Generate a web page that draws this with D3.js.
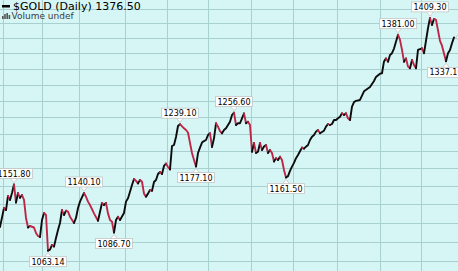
<!DOCTYPE html>
<html>
<head>
<meta charset="utf-8">
<script src="https://cdn.jsdelivr.net/npm/d3@7"></script>
<style>
  html, body { margin: 0; padding: 0; background: #d6f6f6; overflow: hidden; }
  svg { display: block; }
</style>
</head>
<body>
<div id="chart"></div>
<script>
// daily closes (trading-day index, price)
const days = [0, 2, 3, 4, 5, 6, 7, 8, 9, 10, 11, 12, 13, 14, 15, 17, 18, 19, 20, 21, 22, 23, 24, 25, 26, 27, 28, 29, 30, 31, 32, 33, 34, 35, 37, 38, 39, 40, 42, 43, 44, 45, 47, 49, 51, 52, 53, 54, 55, 56, 57, 58, 59, 60, 62, 63, 64, 65, 66, 67, 68, 69, 70, 71, 72, 73, 74, 75, 76, 77, 78, 79, 80, 81, 82, 83, 84, 85, 86, 87, 88, 89, 90, 92, 93, 94, 95, 96, 97, 98, 99, 100, 101, 102, 103, 104, 105, 106, 107, 108, 109, 110, 111, 112, 113, 114, 115, 116, 117, 118, 119, 120, 121, 122, 123, 124, 125, 126, 127, 128, 129, 130, 131, 132, 133, 134, 135, 136, 137, 138, 139, 140, 141, 142, 143, 144, 145, 146, 147, 148, 149, 150, 151, 152, 153, 154, 155, 156, 157, 158, 159, 160, 162, 163, 164, 165, 166, 167, 168, 169, 170, 171, 172, 173, 174, 175, 176, 177, 178, 180, 182, 185, 187, 188, 190, 191, 192, 193, 194, 195, 196, 197, 199, 200, 201, 202, 203, 204, 205, 206, 207, 208, 209, 211, 212, 214, 215, 216, 217, 218, 220, 221, 223, 224, 225, 226, 227];
const closes = [1094.0, 1119.5, 1116.8, 1136.0, 1130.5, 1140.0, 1151.8, 1126.8, 1140.0, 1133.5, 1137.3, 1130.5, 1106.1, 1093.4, 1095.4, 1093.4, 1086.1, 1082.2, 1080.9, 1103.4, 1112.8, 1110.1, 1063.14, 1064.5, 1070.5, 1068.4, 1079.6, 1090.1, 1099.4, 1116.8, 1110.1, 1115.9, 1114.6, 1107.8, 1099.4, 1106.1, 1119.5, 1128.2, 1140.1, 1134.9, 1128.2, 1123.6, 1112.3, 1102.4, 1126.3, 1123.6, 1126.3, 1112.3, 1103.4, 1101.1, 1086.7, 1103.4, 1107.8, 1103.4, 1112.8, 1128.2, 1132.7, 1141.8, 1151.2, 1159.5, 1157.0, 1153.4, 1158.1, 1155.7, 1139.2, 1134.9, 1139.2, 1144.2, 1143.0, 1155.3, 1158.1, 1166.6, 1169.4, 1166.6, 1178.0, 1181.5, 1176.5, 1173.0, 1206.8, 1208.3, 1220.0, 1236.4, 1239.1, 1232.9, 1230.4, 1226.7, 1211.3, 1196.6, 1186.5, 1177.1, 1196.6, 1204.5, 1211.8, 1214.1, 1215.6, 1223.0, 1225.5, 1205.4, 1218.1, 1240.5, 1235.4, 1228.9, 1225.5, 1230.4, 1232.9, 1237.9, 1242.9, 1253.0, 1256.6, 1237.9, 1240.5, 1240.5, 1248.0, 1255.5, 1240.5, 1242.9, 1237.9, 1198.5, 1211.3, 1196.6, 1198.5, 1211.3, 1201.0, 1206.1, 1208.3, 1196.6, 1201.0, 1196.6, 1184.4, 1189.2, 1186.5, 1191.3, 1186.5, 1172.2, 1161.5, 1163.6, 1171.0, 1177.0, 1182.4, 1189.2, 1193.7, 1199.2, 1204.5, 1202.9, 1205.8, 1208.3, 1215.6, 1220.5, 1223.0, 1228.0, 1230.4, 1225.5, 1229.4, 1235.4, 1239.4, 1237.9, 1239.4, 1245.4, 1245.4, 1248.0, 1250.4, 1255.5, 1253.0, 1255.5, 1248.0, 1245.4, 1265.7, 1272.7, 1274.7, 1276.0, 1289.5, 1296.2, 1305.7, 1312.1, 1317.3, 1318.0, 1336.9, 1341.9, 1336.5, 1347.5, 1350.3, 1358.0, 1381.0, 1372.3, 1355.7, 1336.5, 1341.9, 1328.6, 1326.0, 1339.4, 1331.3, 1326.0, 1355.7, 1358.4, 1350.3, 1391.9, 1409.3, 1397.4, 1407.6, 1406.0, 1370.6, 1362.7, 1337.1, 1350.3, 1355.7, 1366.8, 1376.5];

// labelled swing highs / lows (trading-day index)
const peakDays = [7, 42, 90, 117, 199, 215];
const troughDays = [24, 57, 98, 143, 223];

// price grid (log scale) and month separators (in trading days)
const gridPrices = [1050, 1075, 1100, 1125, 1150, 1175, 1200, 1225, 1250, 1275, 1300, 1325, 1350, 1375, 1400, 1425];
const monthBreaks = [1.6, 20.9, 39.7, 62.6, 83.4, 104, 125.4, 146.7, 168.6, 190, 210.6];

const symbol = "$GOLD";
const period = "Daily";

const width = 458, height = 271;
const upColor = "#0c0c0c", downColor = "#bd2746";

const svg = d3.select("#chart").append("svg")
  .attr("width", width)
  .attr("height", height);

const x = d3.scaleLinear().domain([0, 229]).range([0, 458]);
const y = d3.scaleLog().domain([1037.3, 1440.2]).range([height, 0]);

svg.append("rect")
  .attr("width", width).attr("height", height)
  .attr("fill", "#d6f6f6");

// grid
svg.append("g").selectAll("line")
  .data(gridPrices)
  .enter().append("line")
  .attr("x1", 0).attr("x2", width)
  .attr("y1", d => Math.round(y(d)) + 0.5)
  .attr("y2", d => Math.round(y(d)) + 0.5)
  .attr("stroke", "#a9d0d0")
  .attr("stroke-width", 1);

svg.append("g").selectAll("line")
  .data(monthBreaks)
  .enter().append("line")
  .attr("y1", 0).attr("y2", height)
  .attr("x1", d => Math.round(x(d)) + 0.5)
  .attr("x2", d => Math.round(x(d)) + 0.5)
  .attr("stroke", "#a9d0d0")
  .attr("stroke-width", 1);

// price line: black when up, red when down
const pts = days.map((d, i) => ({ day: d, close: closes[i] }));
const runs = [];
for (let i = 1; i < pts.length; i++) {
  const up = pts[i].close >= pts[i - 1].close;
  const last = runs[runs.length - 1];
  if (last && last.up === up) last.pts.push(pts[i]);
  else runs.push({ up: up, pts: [pts[i - 1], pts[i]] });
}

const line = d3.line()
  .x(d => x(d.day))
  .y(d => y(d.close));

svg.append("g").selectAll("path")
  .data(runs)
  .enter().append("path")
  .attr("d", d => line(d.pts))
  .attr("fill", "none")
  .attr("stroke", d => d.up ? upColor : downColor)
  .attr("stroke-width", 1.9)
  .attr("stroke-linejoin", "round")
  .attr("stroke-linecap", "round");

// swing labels
function addLabel(day, above) {
  const p = pts.find(q => q.day === day);
  const px = x(p.day), py = y(p.close);
  const g = svg.append("g");
  const boxH = 10, gap = 6;
  const top = above ? py - gap - boxH : py + gap;
  const tri = above
    ? [[px - 3.5, py - gap], [px, py - 2], [px + 3.5, py - gap]]
    : [[px - 3.5, py + gap], [px, py + 2], [px + 3.5, py + gap]];
  g.append("path")
    .attr("d", d3.line()(tri))
    .attr("fill", "#fff")
    .attr("stroke", "#c4c4c4")
    .attr("stroke-width", 0.8);
  const rect = g.append("rect");
  const t = g.append("text")
    .attr("x", px)
    .attr("y", top + 8)
    .attr("text-anchor", "middle")
    .attr("font-family", "DejaVu Sans, Verdana, sans-serif")
    .attr("font-size", "8px")
    .attr("fill", "#000")
    .text(p.close.toFixed(2));
  const w = t.node().getComputedTextLength() + 4;
  rect.attr("x", px - w / 2).attr("y", top)
    .attr("width", w).attr("height", boxH)
    .attr("fill", "#fff")
    .attr("stroke", "#c4c4c4")
    .attr("stroke-width", 0.8);
}
peakDays.forEach(d => addLabel(d, true));
troughDays.forEach(d => addLabel(d, false));

// last value marker (clipped at right edge)
const lastPt = pts[pts.length - 1];
svg.append("path")
  .attr("d", d3.line()([[x(lastPt.day) + 2, y(lastPt.close)], [x(lastPt.day) + 6, y(lastPt.close) - 4], [x(lastPt.day) + 6, y(lastPt.close) + 4]]) + "Z")
  .attr("fill", "#fff")
  .attr("stroke", "#aaa")
  .attr("stroke-width", 0.8);

// header
svg.append("rect")
  .attr("x", 2).attr("y", 5).attr("width", 8).attr("height", 2.5)
  .attr("fill", "#000");
svg.append("text")
  .attr("x", 13).attr("y", 10)
  .attr("font-family", "DejaVu Sans, Verdana, sans-serif")
  .attr("font-size", "11px")
  .attr("fill", "#000")
  .text(`${symbol} (${period}) ${lastPt.close.toFixed(2)}`);

const volBars = [3, 5, 6, 4];
svg.append("g").selectAll("rect")
  .data(volBars)
  .enter().append("rect")
  .attr("x", (d, i) => 2 + i * 2.2)
  .attr("y", d => 19 - d)
  .attr("width", 1.6)
  .attr("height", d => d)
  .attr("fill", "#555");
svg.append("text")
  .attr("x", 11.5).attr("y", 19)
  .attr("font-family", "DejaVu Sans, Verdana, sans-serif")
  .attr("font-size", "9px")
  .attr("fill", "#3a3a3a")
  .text("Volume undef");
</script>
</body>
</html>
